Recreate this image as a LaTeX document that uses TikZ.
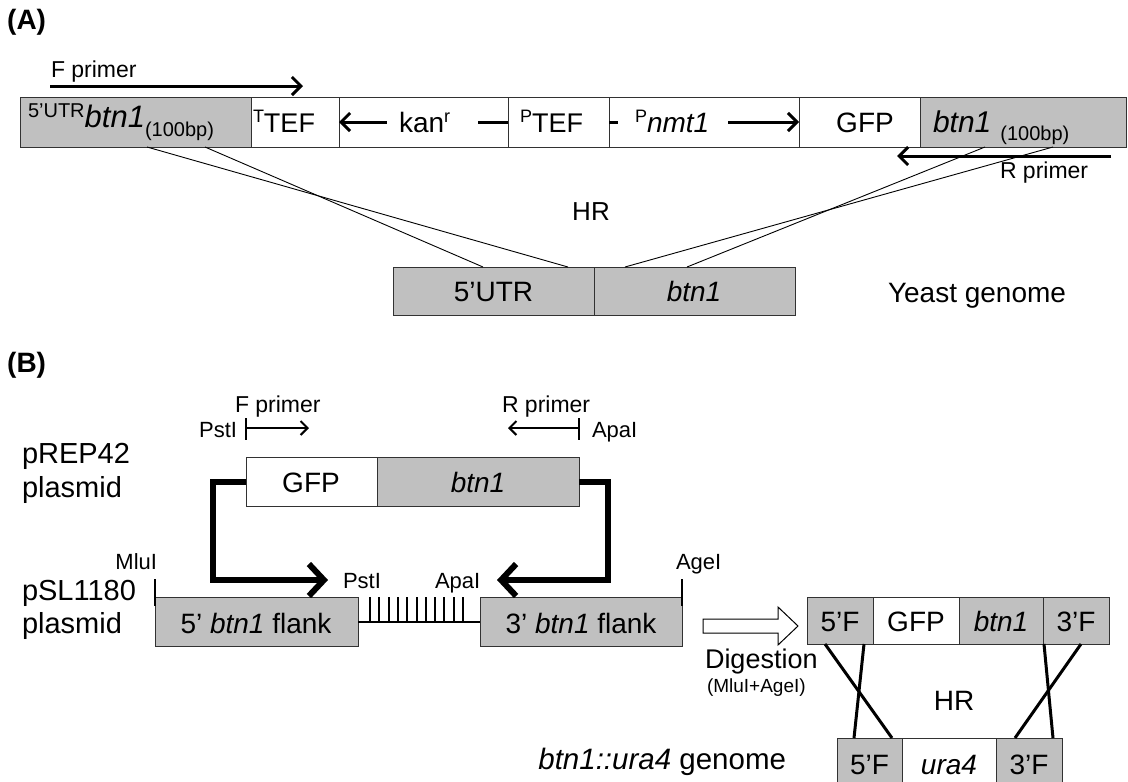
\documentclass[tikz,border=0pt]{standalone}
\usepackage{fontspec}
\setmainfont{Liberation Sans}
\usetikzlibrary{arrows.meta,calc}
\newcommand{\fsz}[1]{\fontsize{#1}{#1}\selectfont}
\definecolor{boxgray}{RGB}{192,192,192}
\definecolor{edgecol}{RGB}{50,50,50}
\begin{document}
\begin{tikzpicture}[x=1pt,y=-1pt,
  box/.style={draw=edgecol,line width=1pt,inner sep=0pt,outer sep=0pt},
  gbox/.style={box,fill=boxgray},
  wbox/.style={box,fill=white},
  txt/.style={inner sep=0pt,outer sep=0pt,font=\fsz{28}},
  stxt/.style={inner sep=0pt,outer sep=0pt,font=\fsz{22}},
  arr/.style={line width=3pt,-{Straight Barb[length=9pt,width=18pt]}},
  sarr/.style={line width=2pt,-{Straight Barb[length=7pt,width=14pt]}},
  tarr/.style={line width=6pt,-{Straight Barb[length=15pt,width=32pt]}},
  thinl/.style={line width=0.9pt,black},
  crossl/.style={line width=3pt,black},
  bar/.style={line width=2pt,black}]
\useasboundingbox (0,0) rectangle (1128,782);

% ---------------- (A) ----------------
\node[inner sep=0pt,anchor=west,font=\fsz{28}\bfseries] (labA) at (7,22) {(A)};

\node[gbox,minimum width=231pt,minimum height=50pt] (a1) at (135.5,122) {};
\node[wbox,minimum width=88pt,minimum height=50pt] (a2) at (295,122) {};
\node[wbox,minimum width=169pt,minimum height=50pt] (a3) at (423.5,122) {};
\node[wbox,minimum width=101pt,minimum height=50pt] (a4) at (558.5,122) {};
\node[wbox,minimum width=190pt,minimum height=50pt] (a5) at (704,122) {};
\node[wbox,minimum width=121pt,minimum height=50pt] (a6) at (859.5,122) {};
\node[gbox,minimum width=206pt,minimum height=50pt] (a7) at (1023,122) {};

\node[txt,anchor=base west] (t1) at (28,127) {{\fsz{20}\raisebox{10pt}{5'UTR}}{\fsz{31}\itshape btn1}{\fsz{20}\raisebox{-9pt}{(100bp)}}};
\node[txt,anchor=base west,font=\fsz{27}] (t2) at (253,132) {{\fsz{18}\raisebox{10pt}{T}}TEF};
\draw[arr] (a4.west) -- (a2.east);
\node[fill=white,inner sep=0pt,minimum width=91pt,minimum height=26pt] (kanbg) at (432.5,122) {};
\node[txt,anchor=base west] (kan) at (399,132) {kan{\fsz{18}\raisebox{10pt}{r}}};
\node[txt,anchor=base west,font=\fsz{27}] (t4) at (520,132) {{\fsz{18}\raisebox{10pt}{P}}TEF};
\draw[arr] (a5.west) -- (a6.west);
\node[fill=white,inner sep=0pt,minimum width=110pt,minimum height=26pt] (nmtbg) at (673,122) {};
\node[txt,anchor=base west] (nmt) at (635,132) {{\fsz{18}\raisebox{10pt}{P}}\textit{nmt1}};
\node[txt,anchor=base] (t6) at (865,132) {GFP};
\node[txt,anchor=base west] (t7) at (933,132) {{\fsz{30}\itshape btn1}\hspace{9pt}{\fsz{20}\raisebox{-8pt}{(100bp)}}};

% primers
\node[txt,anchor=base west,font=\fsz{23}] (fpA) at (51,77) {F primer};
\coordinate (fpAs) at (50,86);
\coordinate (fpAe) at (303,86);
\draw[arr] (fpAs) -- (fpAe);
\node[txt,anchor=base west,font=\fsz{23}] (rpA) at (1000,178) {R primer};
\coordinate (rpAs) at (1111,156);
\coordinate (rpAe) at (897,156);
\draw[arr] (rpAs) -- (rpAe);

% genome
\node[gbox,minimum width=201pt,minimum height=48pt] (g1) at (493.5,291) {};
\node[gbox,minimum width=201pt,minimum height=48pt] (g2) at (694.5,291) {};
\node[txt,anchor=base] (g1t) at (493.5,301) {5’UTR};
\node[txt,anchor=base] (g2t) at (694,301) {\textit{btn1}};
\node[txt,anchor=base,font=\fsz{26}] (hrA) at (591,220) {HR};
\node[txt,anchor=base west] (yg) at (888,302) {Yeast genome};

% HR lines
\coordinate (h1) at (147,147);
\coordinate (h2) at (205,147);
\coordinate (h3) at (985,147);
\coordinate (h4) at (1053,147);
\coordinate (k1) at (568,267);
\coordinate (k2) at (483,267);
\coordinate (k3) at (687,267);
\coordinate (k4) at (625,267);
\draw[thinl] (h1) -- (k1);
\draw[thinl] (h2) -- (k2);
\draw[thinl] (h3) -- (k3);
\draw[thinl] (h4) -- (k4);

% ---------------- (B) ----------------
\node[inner sep=0pt,anchor=west,font=\fsz{28}\bfseries] (labB) at (7,365) {(B)};

\node[txt,anchor=base west,font=\fsz{29}] (pr1) at (22,463) {pREP42};
\node[txt,anchor=base west,font=\fsz{29}] (pr2) at (22,497) {plasmid};
\node[txt,anchor=base west,font=\fsz{29}] (ps1) at (22,600) {pSL1180};
\node[txt,anchor=base west,font=\fsz{29}] (ps2) at (22,633) {plasmid};

% primers B
\node[txt,anchor=base west,font=\fsz{23}] (fpB) at (235,412) {F primer};
\node[stxt,anchor=base east] (pstB) at (237,437) {PstI};
\coordinate (pb1) at (246,418);
\coordinate (pb2) at (246,440);
\draw[bar] (pb1) -- (pb2);
\coordinate (pa1) at (246,428);
\coordinate (pa2) at (309,428);
\draw[sarr] (pa1) -- (pa2);
\node[txt,anchor=base west,font=\fsz{23}] (rpB) at (502,412) {R primer};
\node[stxt,anchor=base west] (apaB) at (592,437) {ApaI};
\coordinate (ab1) at (579,418);
\coordinate (ab2) at (579,440);
\draw[bar] (ab1) -- (ab2);
\coordinate (aa1) at (579,428);
\coordinate (aa2) at (508,428);
\draw[sarr] (aa1) -- (aa2);

% insert
\node[wbox,minimum width=131pt,minimum height=49pt] (b1) at (311.5,481.5) {};
\node[gbox,minimum width=202pt,minimum height=49pt] (b2) at (478,481.5) {};
\node[txt,anchor=base] (b1t) at (311,492) {GFP};
\node[txt,anchor=base] (b2t) at (478,492) {\textit{btn1}};

% pSL1180 row
\node[gbox,minimum width=203pt,minimum height=49pt] (c1) at (256.5,621.5) {};
\node[gbox,minimum width=202pt,minimum height=49pt] (c2) at (581,621.5) {};
\node[txt,anchor=base] (c1t) at (256,633) {5’ \textit{btn1} flank};
\node[txt,anchor=base] (c2t) at (581,633) {3’ \textit{btn1} flank};
\draw[bar] (c1.east) -- (c2.west);
\foreach \i in {0,...,10} \draw[bar] ({370+\i*9.3},597) -- ({370+\i*9.3},622);
\coordinate (mb1) at (155,579);
\coordinate (mb2) at (155,606);
\draw[line width=1.6pt] (mb1) -- (mb2);
\coordinate (gb1) at (682,579);
\coordinate (gb2) at (682,606);
\draw[line width=1.6pt] (gb1) -- (gb2);
\node[stxt,anchor=base east] (mlu) at (157,569) {MluI};
\node[stxt,anchor=base west] (age) at (676,569) {AgeI};
\node[stxt,anchor=base west] (pst2) at (343,588) {PstI};
\node[stxt,anchor=base west] (apa2) at (435,588) {ApaI};

% thick arrows
\coordinate (ltip) at (328,580);
\coordinate (rtip) at (497,580);
\draw[tarr] (b1.west) -- ++(-33,0) |- (ltip);
\draw[tarr] (b2.east) -- ++(29,0) |- (rtip);

% hollow arrow
\draw[line width=1pt,fill=white,line join=miter] (703,619) -- (778,619) -- (778,607) -- (798,626) -- (778,645) -- (778,633) -- (703,633) -- cycle;
\node[txt,anchor=base west,font=\fsz{27}] (dig) at (705,668) {Digestion};
\node[txt,anchor=base west,font=\fsz{19}] (dig2) at (707,692) {(MluI+AgeI)};

% right construct
\node[gbox,minimum width=66pt,minimum height=47pt] (d1) at (840,620.5) {};
\node[wbox,minimum width=86pt,minimum height=47pt] (d2) at (916,620.5) {};
\node[gbox,minimum width=84pt,minimum height=47pt] (d3) at (1001,620.5) {};
\node[gbox,minimum width=66pt,minimum height=47pt] (d4) at (1076,620.5) {};
\node[txt,anchor=base] (d1t) at (840,631) {5’F};
\node[txt,anchor=base] (d2t) at (916,631) {GFP};
\node[txt,anchor=base] (d3t) at (1001,631) {\textit{btn1}};
\node[txt,anchor=base] (d4t) at (1076,631) {3’F};

\node[gbox,minimum width=65pt,minimum height=54pt] (e1) at (869.5,765) {};
\node[wbox,minimum width=94pt,minimum height=54pt] (e2) at (949,765) {};
\node[gbox,minimum width=66pt,minimum height=54pt] (e3) at (1029,765) {};
\node[txt,anchor=base] (e1t) at (869.5,774) {5’F};
\node[txt,anchor=base] (e2t) at (949,774) {\textit{ura4}};
\node[txt,anchor=base] (e3t) at (1029,774) {3’F};

\node[txt,anchor=base] (hrB) at (954,710) {HR};
\node[txt,anchor=base east,font=\fsz{29.5}] (bgen) at (786,769) {\textit{btn1::ura4} genome};

\coordinate (x1) at (825,644);
\coordinate (x2) at (864,644);
\coordinate (x3) at (1044,644);
\coordinate (x4) at (1081,644);
\coordinate (y1) at (892,738);
\coordinate (y2) at (854,738);
\coordinate (y3) at (1053,738);
\coordinate (y4) at (1015,738);
\draw[crossl] (x1) -- (y1);
\draw[crossl] (x2) -- (y2);
\draw[crossl] (x3) -- (y3);
\draw[crossl] (x4) -- (y4);
\end{tikzpicture}
\end{document}
